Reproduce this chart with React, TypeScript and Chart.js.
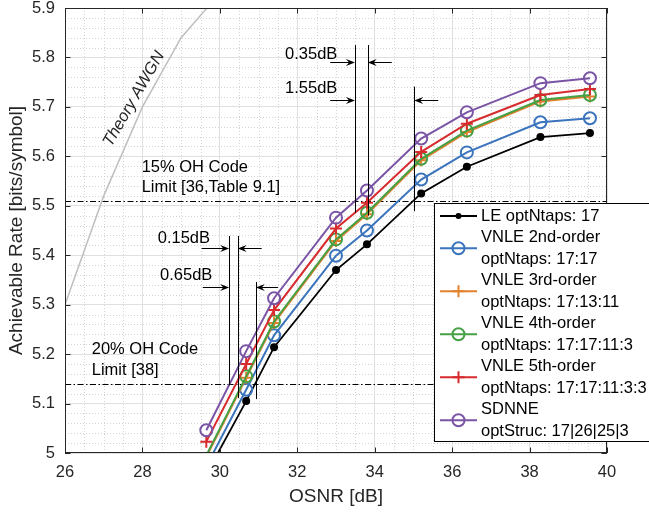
import React, { useEffect, useRef } from "react";
import { Chart, registerables } from "chart.js";

Chart.register(...registerables);

// ---------------- data ----------------
const OSNR = [29.65, 30.68, 31.4, 33.0, 33.8, 35.2, 36.38, 38.28, 39.56];
const LE = [4.957, 5.105, 5.214, 5.37, 5.422, 5.525, 5.579, 5.639, 5.647];
const VNLE2 = [4.973, 5.128, 5.238, 5.399, 5.45, 5.553, 5.608, 5.669, 5.677];
const VNLE3 = [4.992, 5.152, 5.263, 5.429, 5.483, 5.592, 5.649, 5.711, 5.721];
const VNLE4 = [4.995, 5.155, 5.266, 5.432, 5.486, 5.595, 5.652, 5.714, 5.724];
const VNLE5 = [5.023, 5.18, 5.289, 5.454, 5.506, 5.609, 5.666, 5.724, 5.736];
const SDNNE = [5.046, 5.206, 5.313, 5.476, 5.531, 5.636, 5.689, 5.748, 5.758];

const AWGN_OSNR = [26, 27, 28, 29, 30];
const AWGN_RATE = [5.3, 5.52, 5.7, 5.84, 5.93];

const X_TICKS = [26, 28, 30, 32, 34, 36, 38, 40];
const Y_TICKS = [5, 5.1, 5.2, 5.3, 5.4, 5.5, 5.6, 5.7, 5.8, 5.9];
const Y_TICK_LABELS = ["5", "5.1", "5.2", "5.3", "5.4", "5.5", "5.6", "5.7", "5.8", "5.9"];

const LEGEND_LABELS = [
  ["LE optNtaps: 17"],
  ["VNLE 2nd-order", "optNtaps: 17:17"],
  ["VNLE 3rd-order", "optNtaps: 17:13:11"],
  ["VNLE 4th-order", "optNtaps: 17:17:11:3"],
  ["VNLE 5th-order", "optNtaps: 17:17:11:3:3"],
  ["SDNNE", "optStruc: 17|26|25|3"],
];

// OH code limits
const LIMIT_RATES = [5.51, 5.14];
const LIMIT_TEXT_X = [27.98, 26.69];
const LIMIT_TEXT_Y = [[5.578, 5.538], [5.209, 5.166]];
const LIMIT_TEXT = [["15% OH Code", "Limit [36,Table 9.1]"], ["20% OH Code", "Limit [38]"]];

// gap annotations: vertical markers (x, y from, y to)
const GAP_X = [33.49, 33.82, 35.02, 30.24, 30.46, 30.93];
const GAP_Y0 = [5.486, 5.48, 5.489, 5.137, 5.111, 5.109];
const GAP_Y1 = [5.825, 5.825, 5.741, 5.439, 5.439, 5.346];
// arrows: y level, tail x, tip x
const ARROW_Y = [5.79, 5.79, 5.714, 5.714, 5.414, 5.414, 5.335, 5.335];
const ARROW_FROM = [32.85, 34.44, 32.85, 35.64, 29.53, 31.08, 29.56, 31.5];
const ARROW_TO = [33.49, 33.82, 33.49, 35.02, 30.24, 30.46, 30.24, 30.93];
const GAP_TEXT = ["0.35dB", "1.55dB", "0.15dB", "0.65dB"];
const GAP_TEXT_X = [32.36, 32.36, 29.07, 29.13];
const GAP_TEXT_Y = [5.807, 5.737, 5.433, 5.36];

const AWGN_LABEL = "Theory AWGN";
const AWGN_LABEL_POS = [27.78, 5.716];

// ---------------- styles ----------------
const FONT = '"Liberation Sans", Arial, Helvetica, sans-serif';
const TXT = "#262626";
const C_BLUE = "#3b74bd";
const C_ORANGE = "#e3812e";
const C_GREEN = "#45a045";
const C_RED = "#d72b2e";
const C_PURPLE = "#7b55a5";

type Series = { values: number[]; color: string; style: string; r: number; fill: boolean; bw: number };
const SERIES: Series[] = [
  { values: LE, color: "#000000", style: "circle", r: 3, fill: true, bw: 1.8 },
  { values: VNLE2, color: C_BLUE, style: "circle", r: 6, fill: false, bw: 2 },
  { values: VNLE3, color: C_ORANGE, style: "cross", r: 6, fill: false, bw: 2 },
  { values: VNLE4, color: C_GREEN, style: "circle", r: 6, fill: false, bw: 2 },
  { values: VNLE5, color: C_RED, style: "cross", r: 6, fill: false, bw: 2 },
  { values: SDNNE, color: C_PURPLE, style: "circle", r: 6, fill: false, bw: 2 },
];

function drawArrow(ctx: CanvasRenderingContext2D, x0: number, y: number, x1: number) {
  const dir = Math.sign(x1 - x0);
  const L = 9;
  const W = 3.5;
  ctx.beginPath();
  ctx.moveTo(x0, y);
  ctx.lineTo(x1 - dir * L * 0.6, y);
  ctx.stroke();
  ctx.beginPath();
  ctx.moveTo(x1, y);
  ctx.lineTo(x1 - dir * L, y - W);
  ctx.lineTo(x1 - dir * L * 0.65, y);
  ctx.lineTo(x1 - dir * L, y + W);
  ctx.closePath();
  ctx.fill();
}

function drawMarker(ctx: CanvasRenderingContext2D, s: Series, x: number, y: number) {
  ctx.save();
  ctx.strokeStyle = s.color;
  ctx.fillStyle = s.color;
  ctx.lineWidth = 2;
  ctx.beginPath();
  if (s.style === "cross") {
    ctx.moveTo(x - s.r, y);
    ctx.lineTo(x + s.r, y);
    ctx.moveTo(x, y - s.r);
    ctx.lineTo(x, y + s.r);
    ctx.stroke();
  } else {
    ctx.arc(x, y, s.r, 0, Math.PI * 2);
    if (s.fill) ctx.fill();
    else ctx.stroke();
  }
  ctx.restore();
}

const decorPlugin = {
  id: "decor",
  beforeDatasetsDraw(chart: any) {
    const { ctx, chartArea: ca, scales } = chart;
    const xs = scales.x;
    const ys = scales.y;
    ctx.save();
    ctx.beginPath();
    ctx.rect(ca.left, ca.top, ca.right - ca.left, ca.bottom - ca.top);
    ctx.clip();
    // minor grid
    ctx.strokeStyle = "#d4d4d4";
    ctx.lineWidth = 1;
    ctx.setLineDash([1, 2]);
    for (let i = 1; i < 28; i++) {
      if (i % 4 === 0) continue;
      const px = Math.round(xs.getPixelForValue(26 + i * 0.5)) + 0.5;
      ctx.beginPath();
      ctx.moveTo(px, ca.top);
      ctx.lineTo(px, ca.bottom);
      ctx.stroke();
    }
    for (let j = 1; j < 45; j++) {
      if (j % 5 === 0) continue;
      const py = Math.round(ys.getPixelForValue(5 + j * 0.02)) + 0.5;
      ctx.beginPath();
      ctx.moveTo(ca.left, py);
      ctx.lineTo(ca.right, py);
      ctx.stroke();
    }
    // limit lines (dash-dot)
    ctx.strokeStyle = "#000000";
    ctx.setLineDash([6, 2.5, 1.5, 2.5]);
    LIMIT_RATES.forEach((r) => {
      const py = Math.round(ys.getPixelForValue(r)) + 0.5;
      ctx.beginPath();
      ctx.moveTo(ca.left, py);
      ctx.lineTo(ca.right, py);
      ctx.stroke();
    });
    ctx.restore();
  },
  afterDatasetsDraw(chart: any) {
    const { ctx, chartArea: ca, scales } = chart;
    const xs = scales.x;
    const ys = scales.y;
    ctx.save();
    // axes box
    ctx.strokeStyle = TXT;
    ctx.lineWidth = 1;
    ctx.setLineDash([]);
    ctx.strokeRect(ca.left + 0.5, ca.top + 0.5, ca.right - ca.left - 1, ca.bottom - ca.top - 1);
    // inward ticks
    const tl = 5.5;
    X_TICKS.forEach((v) => {
      const px = Math.round(xs.getPixelForValue(v)) + 0.5;
      ctx.beginPath();
      ctx.moveTo(px, ca.bottom);
      ctx.lineTo(px, ca.bottom - tl);
      ctx.moveTo(px, ca.top);
      ctx.lineTo(px, ca.top + tl);
      ctx.stroke();
    });
    Y_TICKS.forEach((v) => {
      const py = Math.round(ys.getPixelForValue(v)) + 0.5;
      ctx.beginPath();
      ctx.moveTo(ca.left, py);
      ctx.lineTo(ca.left + tl, py);
      ctx.moveTo(ca.right, py);
      ctx.lineTo(ca.right - tl, py);
      ctx.stroke();
    });

    // gap annotations
    ctx.strokeStyle = "#000000";
    ctx.fillStyle = "#000000";
    ctx.lineWidth = 1;
    GAP_X.forEach((x, i) => {
      const px = Math.round(xs.getPixelForValue(x)) + 0.5;
      ctx.beginPath();
      ctx.moveTo(px, ys.getPixelForValue(GAP_Y0[i]));
      ctx.lineTo(px, ys.getPixelForValue(GAP_Y1[i]));
      ctx.stroke();
    });
    ARROW_Y.forEach((y, i) => {
      const py = Math.round(ys.getPixelForValue(y)) + 0.5;
      drawArrow(ctx, xs.getPixelForValue(ARROW_FROM[i]), py, xs.getPixelForValue(ARROW_TO[i]));
    });

    ctx.font = `16.5px ${FONT}`;
    ctx.textBaseline = "middle";
    ctx.textAlign = "center";
    ctx.fillStyle = "#000000";
    GAP_TEXT.forEach((t, i) => {
      ctx.fillText(t, xs.getPixelForValue(GAP_TEXT_X[i]), ys.getPixelForValue(GAP_TEXT_Y[i]));
    });
    ctx.textAlign = "left";
    LIMIT_TEXT.forEach((lines, i) => {
      lines.forEach((t, k) => {
        ctx.fillText(t, xs.getPixelForValue(LIMIT_TEXT_X[i]), ys.getPixelForValue(LIMIT_TEXT_Y[i][k]));
      });
    });

    // AWGN label
    ctx.save();
    ctx.translate(xs.getPixelForValue(AWGN_LABEL_POS[0]), ys.getPixelForValue(AWGN_LABEL_POS[1]));
    ctx.rotate(-Math.PI / 3);
    ctx.textAlign = "center";
    ctx.font = `italic 16.5px ${FONT}`;
    ctx.fillStyle = TXT;
    ctx.fillText(AWGN_LABEL, 0, 0);
    ctx.restore();

    // legend
    const lx = ca.right - 173;
    const ly = ca.top + 195;
    ctx.fillStyle = "#ffffff";
    ctx.fillRect(lx, ly, 240, 238);
    ctx.strokeStyle = "#000000";
    ctx.lineWidth = 1;
    ctx.strokeRect(lx + 0.5, ly + 0.5, 240, 238);
    const rowH = 21.5;
    let row = 0;
    ctx.font = `16.5px ${FONT}`;
    ctx.textAlign = "left";
    ctx.textBaseline = "middle";
    LEGEND_LABELS.forEach((lines, i) => {
      const s = SERIES[i];
      const y0 = ly + 13 + row * rowH;
      const yc = y0 + ((lines.length - 1) * rowH) / 2;
      ctx.strokeStyle = s.color;
      ctx.lineWidth = s.bw;
      ctx.beginPath();
      ctx.moveTo(lx + 6, yc);
      ctx.lineTo(lx + 43, yc);
      ctx.stroke();
      drawMarker(ctx, s, lx + 24.5, yc);
      ctx.fillStyle = "#000000";
      lines.forEach((t, k) => ctx.fillText(t, lx + 47, y0 + k * rowH));
      row += lines.length;
    });
    ctx.restore();
  },
};

export default function App() {
  const ref = useRef<HTMLCanvasElement | null>(null);
  useEffect(() => {
    if (!ref.current) return;
    const datasets: any[] = SERIES.map((s, i) => ({
      label: LEGEND_LABELS[i].join(" "),
      data: OSNR.map((x, k) => ({ x, y: s.values[k] })),
      borderColor: s.color,
      borderWidth: s.bw,
      pointStyle: s.style,
      pointRadius: (c: any) => ((c.raw && c.raw.y < 5) ? 0 : s.r),
      pointBorderColor: s.color,
      pointBackgroundColor: s.fill ? s.color : "rgba(0,0,0,0)",
      pointBorderWidth: 2,
      pointHoverRadius: s.r,
      tension: 0,
      fill: false,
      order: SERIES.length - 1 - i,
    }));
    datasets.push({
      label: AWGN_LABEL,
      data: AWGN_OSNR.map((x, k) => ({ x, y: AWGN_RATE[k] })),
      borderColor: "#bfbfbf",
      borderWidth: 1.5,
      pointRadius: 0,
      tension: 0,
      fill: false,
      order: 10,
    });

    const chart = new Chart(ref.current, {
      type: "line",
      data: { datasets },
      plugins: [decorPlugin],
      options: {
        responsive: false,
        animation: false,
        layout: { padding: { left: 0, right: 42, top: 5, bottom: 0 } },
        plugins: { legend: { display: false }, tooltip: { enabled: false } },
        scales: {
          x: {
            type: "linear",
            min: 26,
            max: 40,
            afterBuildTicks: (s: any) => {
              s.ticks = X_TICKS.map((v) => ({ value: v }));
            },
            ticks: {
              font: { family: FONT, size: 16.5 },
              color: TXT,
              padding: 10,
              maxRotation: 0,
              autoSkip: false,
              callback: (v: any) => String(v),
            },
            grid: { color: "#e0e0e0", drawTicks: false, lineWidth: 1 },
            border: { display: false },
            title: {
              display: true,
              text: "OSNR [dB]",
              font: { family: FONT, size: 19 },
              color: TXT,
              padding: { top: 0, bottom: 4.6 },
            },
            afterFit: (s: any) => {
              s.height = 60;
              s.paddingLeft = 0;
              s.paddingRight = 0;
            },
          },
          y: {
            type: "linear",
            min: 5,
            max: 5.9,
            afterBuildTicks: (s: any) => {
              s.ticks = Y_TICKS.map((v) => ({ value: v }));
            },
            ticks: {
              font: { family: FONT, size: 16.5 },
              color: TXT,
              padding: 10,
              autoSkip: false,
              callback: (_v: any, idx: number) => Y_TICK_LABELS[idx],
            },
            grid: { color: "#e0e0e0", drawTicks: false, lineWidth: 1 },
            border: { display: false },
            title: {
              display: true,
              text: "Achievable Rate [bits/symbol]",
              font: { family: FONT, size: 19 },
              color: TXT,
              padding: { top: 5.3, bottom: 0 },
            },
            afterFit: (s: any) => {
              s.width = 65;
              s.paddingTop = 0;
              s.paddingBottom = 0;
            },
          },
        },
      } as any,
    });
    return () => chart.destroy();
  }, []);

  return (
    <canvas
      ref={ref}
      width={649}
      height={513}
      style={{ position: "fixed", left: 0, top: 0, width: 649, height: 513 }}
    />
  );
}
